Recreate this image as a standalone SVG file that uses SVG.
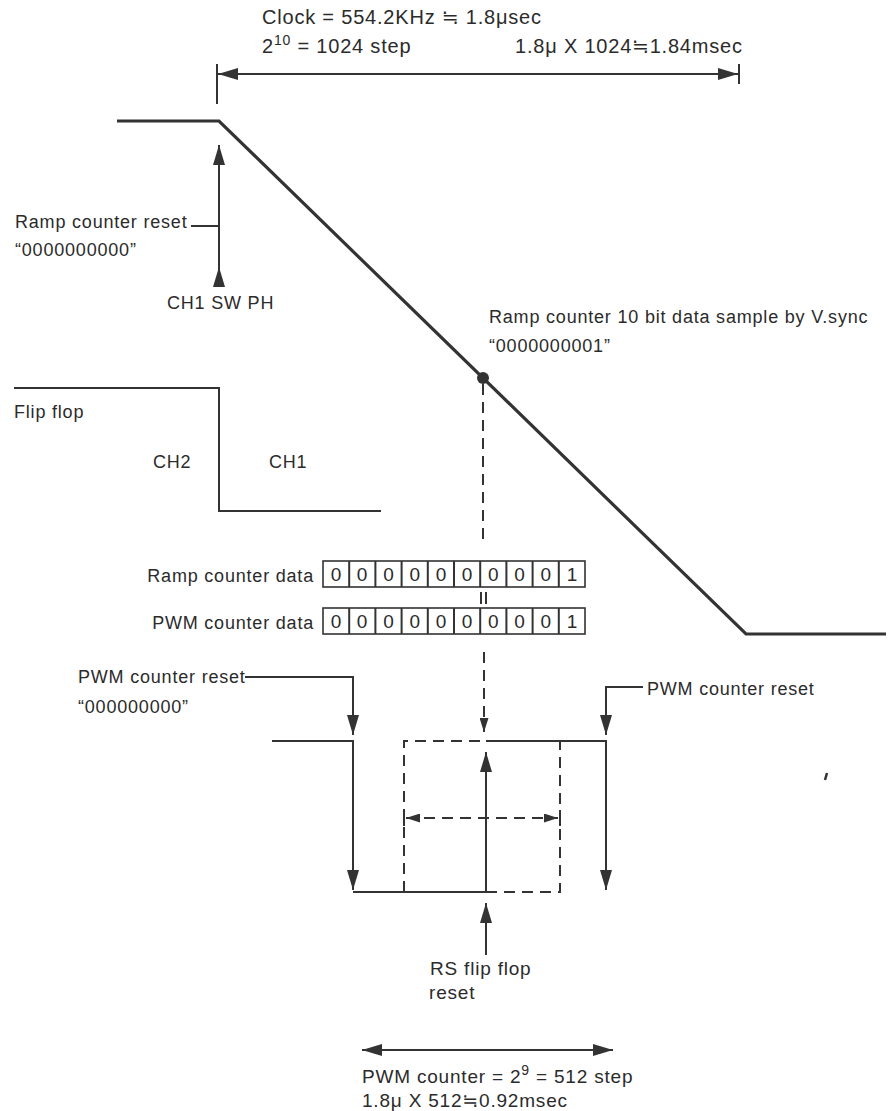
<svg xmlns="http://www.w3.org/2000/svg" width="893" height="1111" viewBox="0 0 893 1111">
<style>
text{font-family:"Liberation Sans",Arial,"DejaVu Sans",sans-serif;font-size:18px;fill:#2b2b2b;letter-spacing:0.8px}
.big{font-size:20px}
.mid{font-size:19px}
.ln{fill:none;stroke:#333;stroke-width:2}
.thick{fill:none;stroke:#333;stroke-width:3.2;stroke-linejoin:miter}
.dash{fill:none;stroke:#333;stroke-width:2;stroke-dasharray:11 7}
.box{fill:#fff;stroke:#333;stroke-width:1.6}
.dg text{text-anchor:middle;font-size:19px;letter-spacing:0}
</style>
<defs>
<marker id="ah" markerUnits="userSpaceOnUse" markerWidth="20" markerHeight="12" refX="20" refY="6" orient="auto-start-reverse"><path d="M0,0 L20,6 L0,12 Z" fill="#333"/></marker>
<marker id="as" markerUnits="userSpaceOnUse" markerWidth="14" markerHeight="9" refX="14" refY="4.5" orient="auto-start-reverse"><path d="M0,0 L14,4.5 L0,9 Z" fill="#333"/></marker>
</defs>

<g id="top-dimension">
<text class="big" x="262" y="24">Clock = 554.2KHz ≒ 1.8μsec</text>
<text class="big" x="262" y="53">2<tspan dy="-8" font-size="14">10</tspan><tspan dy="8"> = 1024 step</tspan></text>
<text class="big" x="515" y="53">1.8μ X 1024≒1.84msec</text>
<line class="ln" x1="217" y1="64" x2="217" y2="104"/>
<line class="ln" x1="739" y1="64" x2="739" y2="84"/>
<line class="ln" x1="218" y1="74" x2="738" y2="74" marker-start="url(#ah)" marker-end="url(#ah)"/>
</g>

<g id="ramp">
<polyline class="thick" points="117,121 219,121 746,634 886,634"/>
<circle cx="483" cy="378" r="6" fill="#333"/>
<text x="489" y="323">Ramp counter 10 bit data sample by V.sync</text>
<text x="489" y="352">“0000000001”</text>
</g>

<g id="ramp-reset">
<line class="ln" x1="219" y1="287" x2="219" y2="145" marker-end="url(#ah)"/>
<polygon points="219,267 213,287 225,287" fill="#333"/>
<line class="ln" x1="191" y1="226" x2="219" y2="226"/>
<text x="15" y="228">Ramp counter reset</text>
<text x="15" y="256">“0000000000”</text>
<text x="167" y="309">CH1 SW PH</text>
</g>

<g id="flip-flop">
<polyline class="ln" points="14,388 219,388 219,511 381,511"/>
<text x="14" y="418">Flip flop</text>
<text x="153" y="468">CH2</text>
<text x="269" y="468">CH1</text>
</g>

<g id="ramp-counter-data">
<text x="314" y="582" text-anchor="end">Ramp counter data</text>
<rect class="box" x="323" y="561" width="262" height="26"/>
<path class="ln" stroke-width="1.6" d="M349.2,561v26M375.4,561v26M401.6,561v26M427.8,561v26M454,561v26M480.2,561v26M506.4,561v26M532.6,561v26M558.8,561v26"/>
<g class="dg">
<text x="336" y="581">0</text><text x="362" y="581">0</text><text x="388.5" y="581">0</text><text x="414.7" y="581">0</text><text x="441" y="581">0</text><text x="467" y="581">0</text><text x="493.3" y="581">0</text><text x="519.5" y="581">0</text><text x="545.7" y="581">0</text><text x="572" y="581">1</text>
</g>
</g>

<g id="equal-mark">
<path class="ln" stroke-width="1.6" d="M481,592v12M486,592v12"/>
</g>

<g id="pwm-counter-data">
<text x="314" y="629" text-anchor="end">PWM counter data</text>
<rect class="box" x="323" y="608" width="262" height="26"/>
<path class="ln" stroke-width="1.6" d="M349.2,608v26M375.4,608v26M401.6,608v26M427.8,608v26M454,608v26M480.2,608v26M506.4,608v26M532.6,608v26M558.8,608v26"/>
<g class="dg">
<text x="336" y="628">0</text><text x="362" y="628">0</text><text x="388.5" y="628">0</text><text x="414.7" y="628">0</text><text x="441" y="628">0</text><text x="467" y="628">0</text><text x="493.3" y="628">0</text><text x="519.5" y="628">0</text><text x="545.7" y="628">0</text><text x="572" y="628">1</text>
</g>
</g>

<g id="pwm-pulse">
<line class="ln" x1="272" y1="741" x2="354" y2="741"/>
<line class="ln" x1="353" y1="741" x2="353" y2="890" marker-end="url(#ah)"/>
<line class="ln" x1="353" y1="892" x2="486" y2="892"/>
<line class="ln" x1="486" y1="892" x2="486" y2="752" marker-end="url(#ah)"/>
<line class="ln" x1="486" y1="741" x2="607" y2="741"/>
<line class="ln" x1="606" y1="741" x2="606" y2="890" marker-end="url(#ah)"/>
<path class="dash" d="M404,892V741H486M486,892H560V741"/>
<line class="dash" x1="406" y1="818" x2="558" y2="818" marker-start="url(#as)" marker-end="url(#as)"/>
<path class="ln" d="M404,810v16M560,810v16"/>
</g>

<g id="pwm-reset-left">
<polyline class="ln" points="245,677 353,677 353,735" marker-end="url(#ah)"/>
<text x="78" y="683">PWM counter reset</text>
<text x="78" y="713">“000000000”</text>
</g>

<g id="pwm-reset-right">
<polyline class="ln" points="643,687 606,687 606,735" marker-end="url(#ah)"/>
<text x="647" y="695">PWM counter reset</text>
</g>

<g id="rs-reset">
<line class="ln" x1="486" y1="955" x2="486" y2="903" marker-end="url(#ah)"/>
<text class="mid" x="430" y="975">RS flip flop</text>
<text class="mid" x="429" y="999">reset</text>
</g>

<g id="pwm-dimension">
<line class="ln" x1="362" y1="1050" x2="613" y2="1050" marker-start="url(#ah)" marker-end="url(#ah)"/>
<text class="mid" x="362" y="1083">PWM counter = 2<tspan dy="-8" font-size="14">9</tspan><tspan dy="8"> = 512 step</tspan></text>
<text class="mid" x="362" y="1107">1.8μ X 512≒0.92msec</text>
</g>

<g id="connectors">
<line class="dash" x1="483" y1="384" x2="483" y2="540"/>
<line class="dash" x1="484" y1="652" x2="484" y2="732" marker-end="url(#as)"/>
</g>

<path d="M827,773 l-2,7" stroke="#333" stroke-width="2.5" fill="none"/>
</svg>
